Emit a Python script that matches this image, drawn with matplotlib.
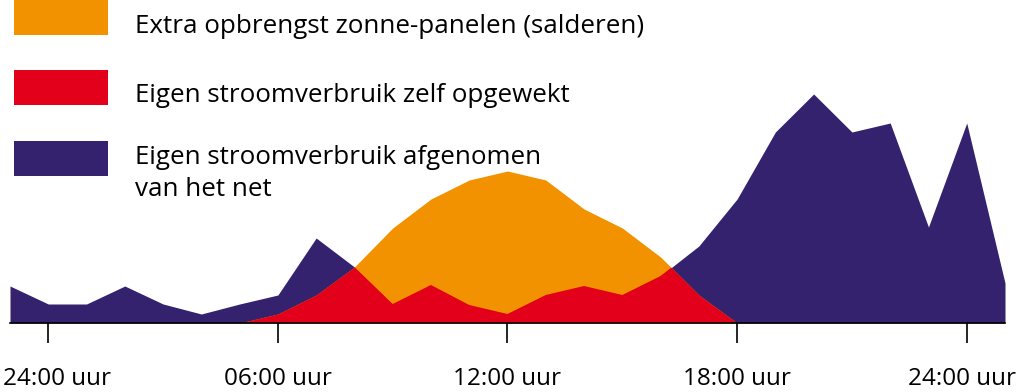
import numpy as np
import matplotlib.pyplot as plt
from matplotlib.patches import Rectangle

# Hours from 23:00 the evening before up to 01:00 the next night
hours = np.arange(-1, 26)

# Total electricity use per hour
consumption = [3.7, 1.9, 1.9, 3.7, 1.9, 0.9, 1.9, 2.8, 8.5, 5.6,
               1.9, 3.8, 1.8, 0.9, 2.8, 3.7, 2.8, 4.7, 7.7, 12.4,
               19.1, 22.9, 19.1, 20.0, 9.6, 20.0, 4.0]

# Solar panel output per hour
solar = [0, 0, 0, 0, 0, 0, 0, 0.9, 2.8, 5.6,
         9.5, 12.4, 14.3, 15.2, 14.3, 11.4, 9.5, 6.6, 2.8, 0,
         0, 0, 0, 0, 0, 0, 0]

tick_hours = [0, 6, 12, 18, 24]
tick_labels = ["24:00 uur", "06:00 uur", "12:00 uur", "18:00 uur", "24:00 uur"]
# labels at the edges are pushed inwards a bit so they stay on the picture
tick_shift = [9, 0, 0, 0, -5]

legend_labels = ["Extra opbrengst zonne-panelen (salderen)",
                 "Eigen stroomverbruik zelf opgewekt",
                 "Eigen stroomverbruik afgenomen",
                 "van het net"]

orange = "#F39200"
red = "#E2001A"
purple = "#35226F"

plt.rcParams['font.family'] = ['Open Sans', 'DejaVu Sans']

W, H = 1020, 392
fig = plt.figure(figsize=(W / 100, H / 100), dpi=100)
ax = fig.add_axes([10 / W, 69 / H, 995 / W, 323 / H])

# Grid use, solar output, and the overlap of both (own use from own panels)
blue_fill = ax.fill_between(hours, consumption, color=purple, linewidth=0)
ax.fill_between(hours, solar, color=orange, linewidth=0)
red_fill = ax.fill_between(hours, solar, color=red, linewidth=0)
red_fill.set_clip_path(blue_fill.get_paths()[0], ax.transData)

ax.set_xlim(-1, 25)
ax.set_ylim(0, 32.3)

for side in ["top", "right", "left"]:
    ax.spines[side].set_visible(False)
ax.spines["bottom"].set_linewidth(1.2)
ax.set_yticks([])
ax.set_xticks(tick_hours)
ax.set_xticklabels([])
ax.tick_params(axis="x", direction="out", length=14.4, width=1.2)

for h, label, dx in zip(tick_hours, tick_labels, tick_shift):
    ax.annotate(label, xy=(h, 0), xycoords=("data", "axes fraction"),
                xytext=(dx, -62), textcoords="offset pixels",
                ha="center", va="baseline", fontsize=17.5)

# Legend drawn by hand: colour blocks with text next to them
box_tops = [0, 70, 141]
for top, col in zip(box_tops, [orange, red, purple]):
    fig.add_artist(Rectangle((14 / W, 1 - (top + 35) / H), 94 / W, 35 / H,
                             transform=fig.transFigure, color=col, lw=0))

text_baselines = [33, 102, 163.5, 195.5]
for base, label in zip(text_baselines, legend_labels):
    fig.text(135 / W, 1 - base / H, label, fontsize=18.7, va="baseline",
             ha="left")

plt.savefig("out.png", dpi=100)
